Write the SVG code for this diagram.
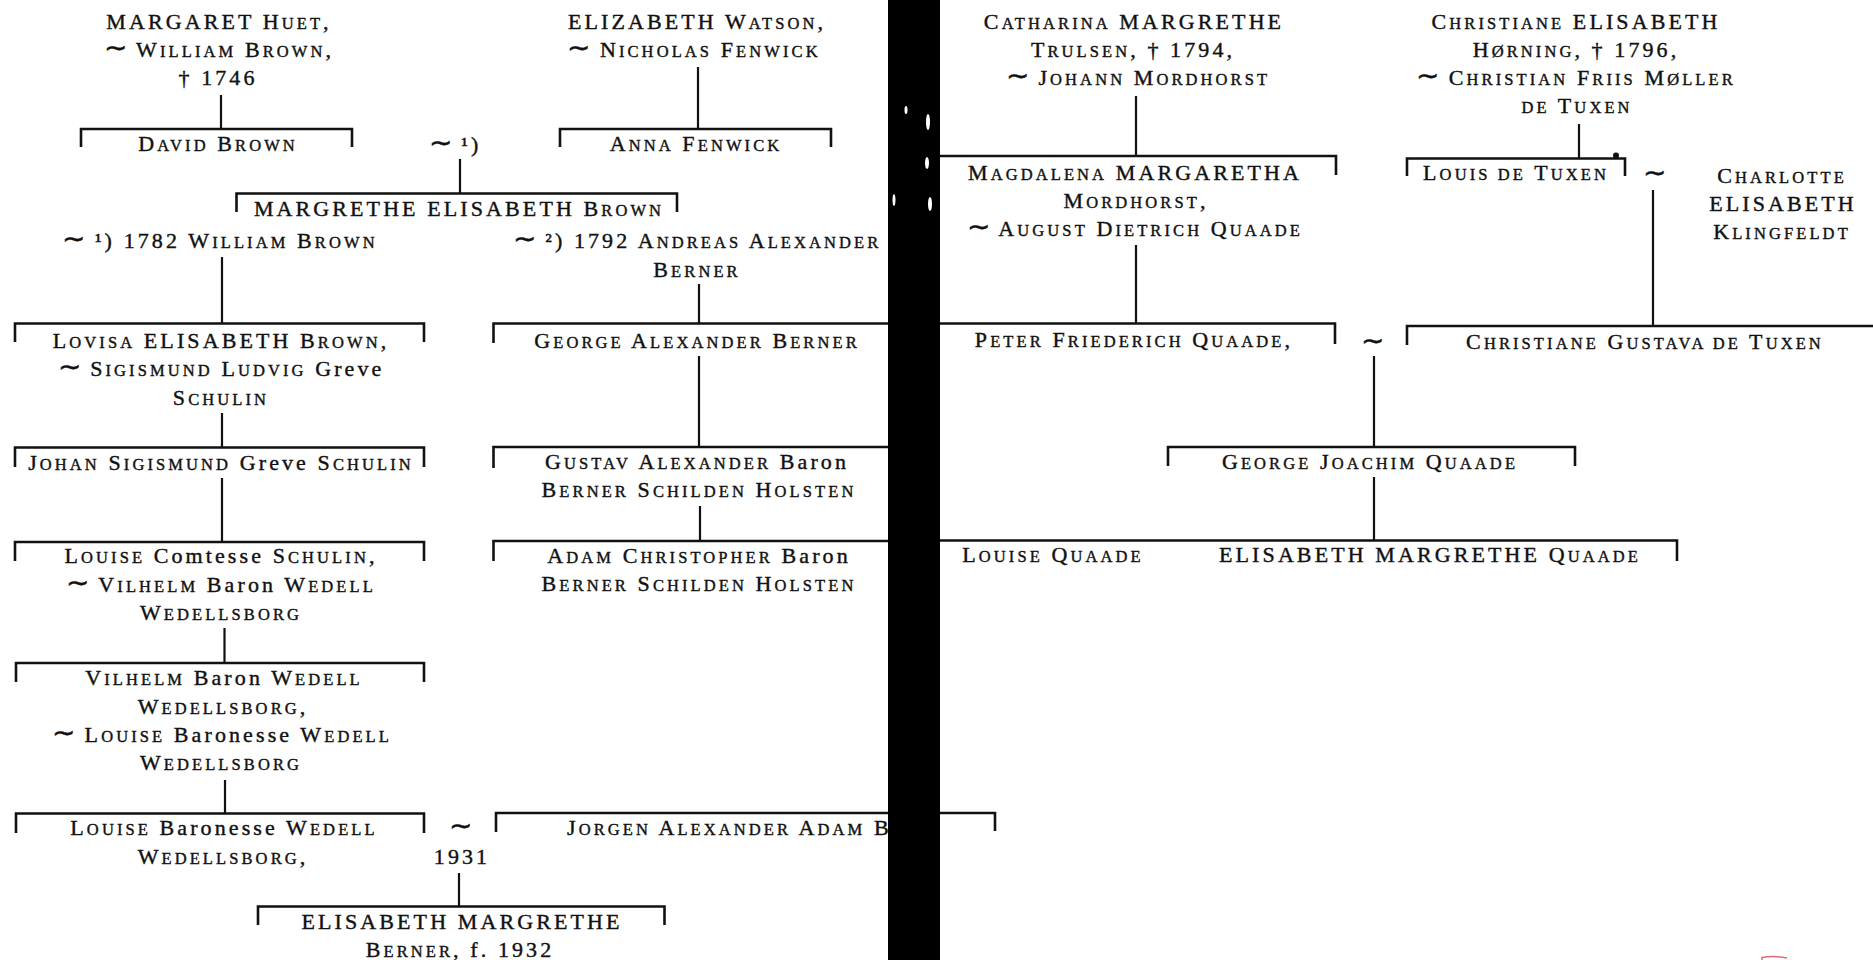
<svg xmlns="http://www.w3.org/2000/svg" width="1873" height="960" viewBox="0 0 1873 960">
<style>
text{font-family:"Liberation Serif","Times New Roman",serif;font-size:22px;letter-spacing:3.1px;text-anchor:middle;fill:#111;stroke:#111;stroke-width:0.4}
.s{font-size:16.5px}
.t{font-size:28px;letter-spacing:1px}
.st{text-anchor:start}
.br{fill:none;stroke:#111;stroke-width:2.6}
.v{fill:none;stroke:#111;stroke-width:2.2}
</style>
<rect width="1873" height="960" fill="#fff"/>
<g id="connectors">
<path class="br" d="M81 147V129H352V147"/>
<path class="br" d="M560 147V129H831V147"/>
<path class="br" d="M236.5 212V193.5H677V212"/>
<path class="br" d="M15 342V323.5H424V342"/>
<path class="br" d="M493.5 343V323.5H900"/>
<path class="br" d="M15 467V447.5H424V467"/>
<path class="br" d="M493.5 468V447H900"/>
<path class="br" d="M15 561V542H424V561"/>
<path class="br" d="M493.5 561V541H900"/>
<path class="br" d="M16 682V663H424V682"/>
<path class="br" d="M16 833V813.5H424V833"/>
<path class="br" d="M496 832V813H995V831"/>
<path class="br" d="M258 925V906.5H664.5V925"/>
<path class="br" d="M930 156H1336V175"/>
<path class="br" d="M930 323.5H1335V344"/>
<path class="br" d="M1168 466V447H1575V466"/>
<path class="br" d="M930 540.5H1677V561"/>
<path class="br" d="M1407 176V158.5H1625V176"/>
<path class="br" d="M1407 345V326H1873"/>
<path class="v" d="M221 95V129M698 67V129M460 159V193.5M222 257V323.5M699 284V323.5M222 413V447.5M699 356V447M222 478V542M700 506V541M224.5 628V663M225 780V813.5M459 873V906.5M1136 96V156M1136 245V323.5M1374 356V447M1374 477V540.5M1579 124V158.5M1653 190V326"/>
<circle cx="1616" cy="155.5" r="3" fill="#111"/>
</g>
<g id="huet"><text x="219" y="28.5">MARGARET H<tspan class="s">UET</tspan>,</text><text x="219" y="56.5"><tspan class="t">∼</tspan> W<tspan class="s">ILLIAM</tspan> B<tspan class="s">ROWN</tspan>,</text><text x="218" y="84.5">† 1746</text></g>
<g id="watson"><text x="697" y="28.5">ELIZABETH W<tspan class="s">ATSON</tspan>,</text><text x="694" y="56.5"><tspan class="t">∼</tspan> N<tspan class="s">ICHOLAS</tspan> F<tspan class="s">ENWICK</tspan></text></g>
<g id="david-brown"><text x="218" y="151">D<tspan class="s">AVID</tspan> B<tspan class="s">ROWN</tspan></text></g>
<g id="anna-fenwick"><text x="696" y="151">A<tspan class="s">NNA</tspan> F<tspan class="s">ENWICK</tspan></text></g>
<g id="marriage-brown"><text x="455" y="152"><tspan class="t">∼</tspan> ¹)</text></g>
<g id="margrethe-elisabeth"><text x="459" y="215.5">MARGRETHE ELISABETH B<tspan class="s">ROWN</tspan></text></g>
<g id="husband-1"><text x="220" y="248"><tspan class="t">∼</tspan> ¹) 1782 W<tspan class="s">ILLIAM</tspan> B<tspan class="s">ROWN</tspan></text></g>
<g id="husband-2"><text x="697" y="248" letter-spacing="2.6"><tspan class="t">∼</tspan> ²) 1792 A<tspan class="s">NDREAS</tspan> A<tspan class="s">LEXANDER</tspan></text><text x="697" y="276.5">B<tspan class="s">ERNER</tspan></text></g>
<g id="lovisa"><text x="221" y="347.5">L<tspan class="s">OVISA</tspan> ELISABETH B<tspan class="s">ROWN</tspan>,</text><text x="221" y="376"><tspan class="t">∼</tspan> S<tspan class="s">IGISMUND</tspan> L<tspan class="s">UDVIG</tspan> Greve</text><text x="221" y="404.5">S<tspan class="s">CHULIN</tspan></text></g>
<g id="george-berner"><text x="697" y="347.5">G<tspan class="s">EORGE</tspan> A<tspan class="s">LEXANDER</tspan> B<tspan class="s">ERNER</tspan></text></g>
<g id="johan"><text x="221" y="469.5">J<tspan class="s">OHAN</tspan> S<tspan class="s">IGISMUND</tspan> Greve S<tspan class="s">CHULIN</tspan></text></g>
<g id="gustav"><text x="697" y="469">G<tspan class="s">USTAV</tspan> A<tspan class="s">LEXANDER</tspan> Baron</text><text x="699" y="497">B<tspan class="s">ERNER</tspan> S<tspan class="s">CHILDEN</tspan> H<tspan class="s">OLSTEN</tspan></text></g>
<g id="louise-comtesse"><text x="221" y="563">L<tspan class="s">OUISE</tspan> Comtesse S<tspan class="s">CHULIN</tspan>,</text><text x="221" y="591.5"><tspan class="t">∼</tspan> V<tspan class="s">ILHELM</tspan> Baron W<tspan class="s">EDELL</tspan></text><text x="221" y="619.5">W<tspan class="s">EDELLSBORG</tspan></text></g>
<g id="adam"><text x="699" y="563">A<tspan class="s">DAM</tspan> C<tspan class="s">HRISTOPHER</tspan> Baron</text><text x="699" y="591">B<tspan class="s">ERNER</tspan> S<tspan class="s">CHILDEN</tspan> H<tspan class="s">OLSTEN</tspan></text></g>
<g id="vilhelm"><text x="224" y="685">V<tspan class="s">ILHELM</tspan> Baron W<tspan class="s">EDELL</tspan></text><text x="223" y="713.5">W<tspan class="s">EDELLSBORG</tspan>,</text><text x="222" y="741.5"><tspan class="t">∼</tspan> L<tspan class="s">OUISE</tspan> Baronesse W<tspan class="s">EDELL</tspan></text><text x="221" y="770">W<tspan class="s">EDELLSBORG</tspan></text></g>
<g id="louise-baronesse"><text x="224" y="835">L<tspan class="s">OUISE</tspan> Baronesse W<tspan class="s">EDELL</tspan></text><text x="223" y="863.5">W<tspan class="s">EDELLSBORG</tspan>,</text></g>
<g id="marriage-1931"><text x="461" y="835"><tspan class="t">∼</tspan></text><text x="462" y="863.5">1931</text></g>
<g id="jorgen"><text class="st" x="567" y="835">J<tspan class="s">ORGEN</tspan> A<tspan class="s">LEXANDER</tspan> A<tspan class="s">DAM</tspan> B</text></g>
<g id="elisabeth-berner"><text x="462" y="928.5">ELISABETH MARGRETHE</text><text x="460" y="957">B<tspan class="s">ERNER</tspan>, f. 1932</text></g>
<g id="catharina"><text x="1134" y="28.5">C<tspan class="s">ATHARINA</tspan> MARGRETHE</text><text x="1133" y="56.5">T<tspan class="s">RULSEN</tspan>, † 1794,</text><text x="1138" y="84.5"><tspan class="t">∼</tspan> J<tspan class="s">OHANN</tspan> M<tspan class="s">ORDHORST</tspan></text></g>
<g id="magdalena"><text x="1135" y="179.5">M<tspan class="s">AGDALENA</tspan> MARGARETHA</text><text x="1136" y="207.5">M<tspan class="s">ORDHORST</tspan>,</text><text x="1135" y="235.5"><tspan class="t">∼</tspan> A<tspan class="s">UGUST</tspan> D<tspan class="s">IETRICH</tspan> Q<tspan class="s">UAADE</tspan></text></g>
<g id="peter"><text x="1134" y="347">P<tspan class="s">ETER</tspan> F<tspan class="s">RIEDERICH</tspan> Q<tspan class="s">UAADE</tspan>,</text></g>
<g id="marriage-quaade"><text x="1373" y="350"><tspan class="t">∼</tspan></text></g>
<g id="george-joachim"><text x="1370" y="469">G<tspan class="s">EORGE</tspan> J<tspan class="s">OACHIM</tspan> Q<tspan class="s">UAADE</tspan></text></g>
<g id="louise-quaade"><text x="1053" y="562">L<tspan class="s">OUISE</tspan> Q<tspan class="s">UAADE</tspan></text></g>
<g id="elisabeth-quaade"><text x="1430" y="562">ELISABETH MARGRETHE Q<tspan class="s">UAADE</tspan></text></g>
<g id="christiane-horning"><text x="1576" y="28.5">C<tspan class="s">HRISTIANE</tspan> ELISABETH</text><text x="1576" y="56.5">H<tspan class="s">ØRNING</tspan>, † 1796,</text><text x="1576" y="84.5"><tspan class="t">∼</tspan> C<tspan class="s">HRISTIAN</tspan> F<tspan class="s">RIIS</tspan> M<tspan class="s">ØLLER</tspan></text><text x="1577" y="113"><tspan class="s">DE</tspan> T<tspan class="s">UXEN</tspan></text></g>
<g id="louis-tuxen"><text x="1516" y="180">L<tspan class="s">OUIS DE</tspan> T<tspan class="s">UXEN</tspan></text></g>
<g id="marriage-tuxen"><text x="1655" y="182"><tspan class="t">∼</tspan></text></g>
<g id="charlotte"><text x="1782" y="182.5">C<tspan class="s">HARLOTTE</tspan></text><text x="1783" y="211">ELISABETH</text><text x="1782" y="239">K<tspan class="s">LINGFELDT</tspan></text></g>
<g id="christiane-gustava"><text x="1645" y="348.5">C<tspan class="s">HRISTIANE</tspan> G<tspan class="s">USTAVA DE</tspan> T<tspan class="s">UXEN</tspan></text></g>
<g id="gutter">
<rect x="888" y="0" width="52" height="960" fill="#000"/>
<g fill="#fff"><ellipse cx="906" cy="110" rx="1.5" ry="4"/><ellipse cx="928" cy="122" rx="2" ry="8"/><ellipse cx="927" cy="163" rx="2" ry="6"/><ellipse cx="894" cy="200" rx="1.5" ry="6"/><ellipse cx="930" cy="204" rx="2" ry="7"/></g>
</g>
<path d="M1762 960V957.5Q1775 955.5 1787 958" fill="none" stroke="#e06a7a" stroke-width="1.5"/>
</svg>
